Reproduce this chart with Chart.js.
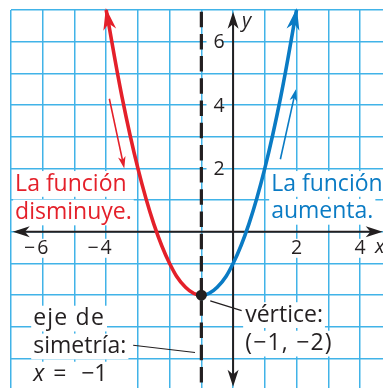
<!DOCTYPE html>
<html>
<head>
<meta charset="utf-8">
<script src="https://cdn.jsdelivr.net/npm/chart.js@4.4.1/dist/chart.umd.min.js"></script>
<style>
html, body { margin: 0; padding: 0; background: #fff; }
#wrap { width: 383px; height: 388px; }
</style>
</head>
<body>
<div id="wrap"><canvas id="chartParabola" width="383" height="388"></canvas></div>
<script>
// f(x) = x^2 + 2x - 1
const curveX = [-4, -3.5, -3, -2.5, -2, -1.5, -1, -0.5, 0, 0.5, 1, 1.5, 2];
const curveY = [7, 4.25, 2, 0.25, -1, -1.75, -2, -1.75, -1, 0.25, 2, 4.25, 7];
const vertexX = -1;
const vertexY = -2;
const xTickLabels = [-6, -4, 2, 4];
const yTickLabels = [2, 4, 6];
const decreaseArrowX = [-3.9, -3.43];
const decreaseArrowY = [4.2, 2.0];
const increaseArrowX = [1.49, 1.98];
const increaseArrowY = [2.29, 4.5];
const redText = ["La función", "disminuye."];
const blueText = ["La función", "aumenta."];
const axisText = ["eje de", "simetría:"];
const vertexText = ["vértice:", "(−1, −2)"];

const RED = "#e4202a";
const BLUE = "#0a7bc4";
const INK = "#231f20";
const GRID = "#41b3e8";
const FONT = '"Open Sans", sans-serif';

function arrowHead(ctx, x, y, angle, len, half, color) {

    ctx.save();
    ctx.translate(x, y);
    ctx.rotate(angle);
    ctx.beginPath();
    ctx.moveTo(0, 0);
    ctx.lineTo(-len, half);
    ctx.lineTo(-len * 0.72, 0);
    ctx.lineTo(-len, -half);
    ctx.closePath();
    ctx.fillStyle = color;
    ctx.fill();
    ctx.restore();
}

function label(ctx, text, x, y, size, color, spacing) {

    ctx.font = size + "px " + FONT;
    ctx.letterSpacing = (spacing || 0) + "px";
    const w = ctx.measureText(text).width;
    ctx.fillStyle = "#fff";
    ctx.fillRect(x - 2, y - size * 0.85, w + 4, size * 1.12);
    ctx.fillStyle = color;
    ctx.textAlign = "left";
    ctx.textBaseline = "alphabetic";
    ctx.fillText(text, x, y);
    ctx.letterSpacing = "0px";
}

const parabolaPlugin = {

    id: "parabolaPlugin",

    beforeDatasetsDraw(chart) {

        const ctx = chart.ctx;
        const xs = chart.scales.x;
        const ys = chart.scales.y;
        const area = chart.chartArea;
        const x0 = xs.getPixelForValue(0);
        const y0 = ys.getPixelForValue(0);

        ctx.save();

        // axis of symmetry
        const xv = xs.getPixelForValue(vertexX);
        ctx.strokeStyle = INK;
        ctx.lineWidth = 3.2;
        ctx.setLineDash([15.5, 6.7]);
        ctx.beginPath();
        ctx.moveTo(xv, area.top + 1.7);
        ctx.lineTo(xv, area.bottom);
        ctx.stroke();
        ctx.setLineDash([]);

        // axes
        ctx.lineWidth = 2;
        ctx.beginPath();
        ctx.moveTo(area.left + 6, y0);
        ctx.lineTo(area.right - 6, y0);
        ctx.moveTo(x0, area.top + 6);
        ctx.lineTo(x0, area.bottom - 6);
        ctx.stroke();
        arrowHead(ctx, area.left + 1.7, y0, Math.PI, 17, 5.5, INK);
        arrowHead(ctx, area.right - 0.3, y0, 0, 17, 5.5, INK);
        arrowHead(ctx, x0, area.top + 1.7, -Math.PI / 2, 17, 5.5, INK);
        arrowHead(ctx, x0, area.bottom - 1.3, Math.PI / 2, 17, 5.5, INK);

        // tick labels
        ctx.textBaseline = "middle";
        ctx.font = "19.5px " + FONT;
        xTickLabels.forEach(v => {
            const cx = xs.getPixelForValue(v);
            const digit = String(Math.abs(v));
            const dw = ctx.measureText(digit).width;
            let left = cx - dw / 2;
            if (v < 0) {
                left -= ctx.measureText("−").width + 2;
            }
            ctx.fillStyle = "#fff";
            ctx.fillRect(left - 2, y0 + 7, cx + dw / 2 - left + 4, 19);
            ctx.fillStyle = INK;
            ctx.textAlign = "center";
            ctx.fillText(digit, cx, y0 + 17);
            if (v < 0) {
                ctx.textAlign = "right";
                ctx.fillText("−", cx - dw / 2 - 2, y0 + 17);
            }
        });
        yTickLabels.forEach(v => {
            const cy = ys.getPixelForValue(v);
            const t = String(v);
            const w = ctx.measureText(t).width;
            ctx.fillStyle = "#fff";
            ctx.fillRect(x0 - 21 - w / 2, cy - 9, w + 4, 18);
            ctx.fillStyle = INK;
            ctx.textAlign = "center";
            ctx.fillText(t, x0 - 14, cy + 1);
        });

        // axis names
        ctx.font = "italic 20px " + FONT;
        ctx.textAlign = "left";
        ctx.textBaseline = "alphabetic";
        ctx.fillText("y", x0 + 9, area.top + 17);
        ctx.fillText("x", xs.getPixelForValue(4) + 15, y0 + 21);

        // notes
        const size = 23;
        label(ctx, redText[0], xs.getPixelForValue(-6.87), ys.getPixelForValue(1.3), size, RED);
        label(ctx, redText[1], xs.getPixelForValue(-6.87), ys.getPixelForValue(0.4), size, RED);
        label(ctx, blueText[0], xs.getPixelForValue(1.2), ys.getPixelForValue(1.3), size, BLUE);
        label(ctx, blueText[1], xs.getPixelForValue(1.2), ys.getPixelForValue(0.42), size, BLUE);
        label(ctx, axisText[0], xs.getPixelForValue(-6.3), ys.getPixelForValue(-2.95), size, INK, 1.2);
        label(ctx, axisText[1], xs.getPixelForValue(-6.3), ys.getPixelForValue(-3.83), size, INK);
        label(ctx, vertexText[0], xs.getPixelForValue(0.38), ys.getPixelForValue(-2.84), size, INK);
        label(ctx, vertexText[1], xs.getPixelForValue(0.38), ys.getPixelForValue(-3.74), size, INK, 1.2);

        // x = -1
        const ex = xs.getPixelForValue(-6.3);
        const ey = ys.getPixelForValue(-4.7);
        ctx.fillStyle = "#fff";
        ctx.fillRect(ex - 2, ey - 19, 80, 30);
        ctx.fillStyle = INK;
        ctx.font = "italic " + size + "px " + FONT;
        ctx.fillText("x", ex, ey);
        ctx.font = size + "px " + FONT;
        ctx.fillText("=", ex + 20, ey);
        ctx.fillText("−1", ex + 48, ey);

        // leader lines
        ctx.lineWidth = 1.2;
        ctx.beginPath();
        ctx.moveTo(xs.getPixelForValue(-3.15), ys.getPixelForValue(-3.58));
        ctx.lineTo(xs.getPixelForValue(-1.2), ys.getPixelForValue(-3.81));
        ctx.moveTo(xs.getPixelForValue(-0.72), ys.getPixelForValue(-2.18));
        ctx.lineTo(xs.getPixelForValue(0.27), ys.getPixelForValue(-2.49));
        ctx.stroke();

        ctx.restore();
    },

    afterDatasetsDraw(chart) {

        const ctx = chart.ctx;
        const xs = chart.scales.x;
        const ys = chart.scales.y;
        const pts = chart.getDatasetMeta(0).data;

        ctx.save();

        // curve ends
        const first = pts[0];
        const last = pts[pts.length - 1];
        const a1 = Math.atan2(first.y - (first.cp2y ?? pts[1].y), first.x - (first.cp2x ?? pts[1].x));
        const a2 = Math.atan2(last.y - (last.cp1y ?? pts[pts.length - 2].y), last.x - (last.cp1x ?? pts[pts.length - 2].x));
        arrowHead(ctx, first.x + Math.cos(a1) * 2, first.y + Math.sin(a1) * 2, a1, 22, 6.5, RED);
        arrowHead(ctx, last.x + Math.cos(a2) * 2, last.y + Math.sin(a2) * 2, a2, 22, 6.5, BLUE);

        // small direction arrows
        [[decreaseArrowX, decreaseArrowY, RED], [increaseArrowX, increaseArrowY, BLUE]].forEach(([ax, ay, c]) => {
            const sx = xs.getPixelForValue(ax[0]);
            const sy = ys.getPixelForValue(ay[0]);
            const tx = xs.getPixelForValue(ax[1]);
            const ty = ys.getPixelForValue(ay[1]);
            const ang = Math.atan2(ty - sy, tx - sx);
            ctx.strokeStyle = c;
            ctx.lineWidth = 1.6;
            ctx.beginPath();
            ctx.moveTo(sx, sy);
            ctx.lineTo(tx - Math.cos(ang) * 6, ty - Math.sin(ang) * 6);
            ctx.stroke();
            arrowHead(ctx, tx, ty, ang, 12, 3.8, c);
        });

        // vertex
        ctx.fillStyle = INK;
        ctx.beginPath();
        ctx.arc(xs.getPixelForValue(vertexX), ys.getPixelForValue(vertexY), 5.5, 0, Math.PI * 2);
        ctx.fill();

        ctx.restore();
    }
};

const chartParabola = new Chart(

    document.getElementById("chartParabola"),

    {
        type: "line",

        data: {

            datasets: [{

                data:
                    curveX.map(
                        (x, i) => ({ x: x, y: curveY[i] })
                    ),

                borderWidth: 3.6,
                pointRadius: 0,
                tension: 0.4,
                clip: false,

                segment: {
                    borderColor: c =>
                        c.p0.parsed.x < vertexX ? RED : BLUE
                }
            }]
        },

        options: {

            responsive: false,
            devicePixelRatio: 1,
            animation: false,

            layout: {
                padding: { left: 11, top: 10, right: 0, bottom: 0 }
            },

            plugins: {
                legend: { display: false },
                tooltip: { enabled: false }
            },

            scales: {

                x: {
                    type: "linear",
                    min: -7,
                    max: 4.725,
                    afterFit: s => { s.height = 0; },
                    border: { display: false },
                    grid: { color: GRID, lineWidth: 1.5, drawTicks: false },
                    ticks: { display: false, stepSize: 1, includeBounds: false, autoSkip: false }
                },

                y: {
                    min: -4.93,
                    max: 7,
                    afterFit: s => { s.width = 0; },
                    border: { display: false },
                    grid: { color: GRID, lineWidth: 1.5, drawTicks: false },
                    ticks: { display: false, stepSize: 1, includeBounds: false, autoSkip: false }
                }
            }
        },

        plugins: [parabolaPlugin]
    }
);
</script>
</body>
</html>
